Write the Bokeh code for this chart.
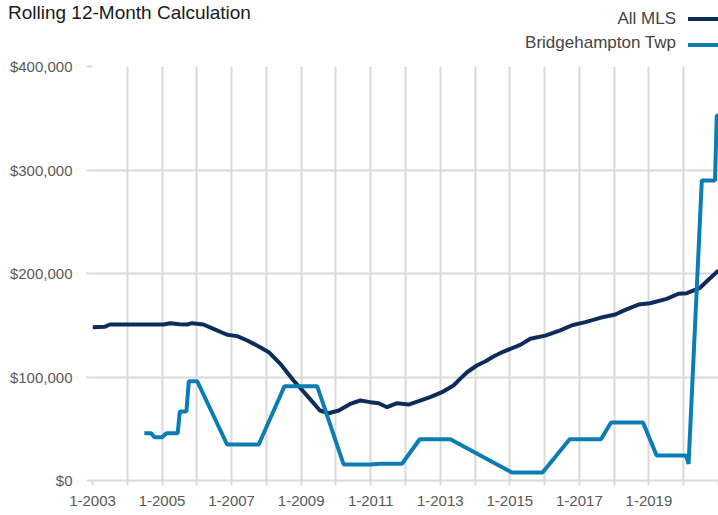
from bokeh.plotting import figure
from bokeh.layouts import column
from bokeh.models import FixedTicker, NumeralTickFormatter, Range1d, Div
from bokeh.embed import file_html
from bokeh.resources import INLINE

# ---------------- data ----------------
title_text = "Rolling 12-Month Calculation"
series_names = ["All MLS", "Bridgehampton Twp"]
series_colors = ["#0c2d5c", "#0b7db3"]

all_mls_year = [2003.0, 2003.35, 2003.5, 2005.04, 2005.24, 2005.5, 2005.72, 2005.86,
                2006.19, 2006.48, 2006.87, 2007.16, 2007.45, 2007.73, 2008.07, 2008.40,
                2008.78, 2009.17, 2009.54, 2009.79, 2010.08, 2010.41, 2010.70, 2010.99,
                2011.23, 2011.47, 2011.76, 2012.09, 2012.38, 2012.71, 2013.05, 2013.38,
                2013.57, 2013.77, 2014.05, 2014.29, 2014.53, 2014.82, 2015.30, 2015.59,
                2016.02, 2016.45, 2016.79, 2017.17, 2017.60, 2018.03, 2018.32, 2018.70,
                2019.03, 2019.51, 2019.85, 2020.09, 2020.47, 2020.71, 2021.0]
all_mls_value = [148100, 148500, 150700, 150700, 152000, 151000, 150700, 152000,
                 150700, 146500, 140800, 139500, 135300, 130400, 124000, 112700,
                 96600, 82000, 67600, 65000, 67600, 74000, 77300, 75700,
                 74600, 70800, 74700, 73400, 76600, 80500, 85300, 91800,
                 98200, 104600, 111100, 115000, 119800, 124600, 131000, 137000,
                 140000, 145000, 150000, 153000, 157200, 160400, 164900, 170000,
                 171300, 175500, 180400, 181000, 186200, 193900, 202900]

bridge_year = [2004.49, 2004.69, 2004.78, 2005.0, 2005.13, 2005.45, 2005.51, 2005.70,
               2005.77, 2006.01, 2006.87, 2007.78, 2008.52, 2009.46, 2010.22, 2010.99,
               2011.28, 2011.90, 2012.41, 2013.29, 2015.06, 2015.94, 2016.72, 2017.62,
               2017.91, 2018.83, 2019.22, 2020.07, 2020.14, 2020.52, 2020.90, 2020.95,
               2021.0]
bridge_value = [45700, 45700, 41900, 41900, 45700, 45700, 66700, 66700,
                96000, 96000, 34800, 34800, 91100, 91100, 15500, 15500,
                16200, 16200, 39900, 39900, 7700, 7700, 39900, 39900,
                56000, 56000, 24200, 24200, 16100, 289900, 289900, 352700,
                352700]

year_ticks = list(range(2003, 2022))
year_tick_labels = ["1-%d" % y if (y % 2 == 1 and y < 2021) else "" for y in year_ticks]
value_ticks = [0, 100000, 200000, 300000, 400000]

FONT = "Liberation Sans"
GRID = "#d9d9d9"
W = 718
HEAD_H = 56

# ---------------- header: title + legend (text left of line sample) ----------------
legend_text_top = [9.9, 33.9]
legend_line_top = [17, 42.5]
rows = []
for name, color, tt, lt in zip(series_names, series_colors, legend_text_top, legend_line_top):
    rows.append(
        f'<span style="position:absolute;right:42px;top:{tt}px;font-size:17px;'
        f'line-height:17px;color:#444444;white-space:nowrap;">{name}</span>'
        f'<span style="position:absolute;left:688px;width:30px;top:{lt}px;height:4px;'
        f'background:{color};"></span>')
html = (f'<div style="position:relative;width:{W}px;height:{HEAD_H}px;'
        f'font-family:\'{FONT}\';margin:0;padding:0;">'
        f'<span style="position:absolute;left:8px;top:2.6px;font-size:19px;line-height:19px;'
        f'color:#1a1a1a;white-space:nowrap;">{title_text}</span>'
        + "".join(rows) + '</div>')
head = Div(text=html, width=W, height=HEAD_H, margin=0,
           styles={"padding": "0", "margin": "0"})

# ---------------- chart ----------------
p = figure(width=W, height=515 - HEAD_H, output_backend="svg", toolbar_location=None,
           x_range=Range1d(2003, 2021), y_range=Range1d(0, 400000),
           min_border_left=92, min_border_right=0, min_border_top=10,
           min_border_bottom=35, outline_line_color=None, margin=0)

p.line(all_mls_year, all_mls_value, line_color=series_colors[0], line_width=4)
p.line(bridge_year, bridge_value, line_color=series_colors[1], line_width=4)

p.xaxis.ticker = FixedTicker(ticks=year_ticks)
p.xaxis.major_label_overrides = {y: lab for y, lab in zip(year_ticks, year_tick_labels)}
p.xaxis.minor_tick_line_color = None
p.xaxis.major_tick_in = 0
p.xaxis.major_tick_out = 5
p.xaxis.major_tick_line_color = GRID
p.xaxis.major_tick_line_width = 2
p.xaxis.axis_line_color = GRID
p.xaxis.axis_line_width = 2
p.xaxis.major_label_standoff = 10

p.yaxis.ticker = FixedTicker(ticks=value_ticks)
p.yaxis.formatter = NumeralTickFormatter(format="$0,0")
p.yaxis.minor_tick_line_color = None
p.yaxis.major_tick_in = 0
p.yaxis.major_tick_out = 6
p.yaxis.major_tick_line_color = GRID
p.yaxis.major_tick_line_width = 2
p.yaxis.axis_line_color = None
p.yaxis.major_label_standoff = 14

for ax in (p.xaxis, p.yaxis):
    ax.major_label_text_font = FONT
    ax.major_label_text_font_size = "15px"
    ax.major_label_text_color = "#595959"

p.xgrid.ticker = FixedTicker(ticks=year_ticks)
p.ygrid.ticker = FixedTicker(ticks=value_ticks)
p.grid.grid_line_color = GRID
p.grid.grid_line_width = 2

layout = column(head, p, spacing=0, margin=0)
open("out.html", "w").write(file_html(layout, INLINE))
